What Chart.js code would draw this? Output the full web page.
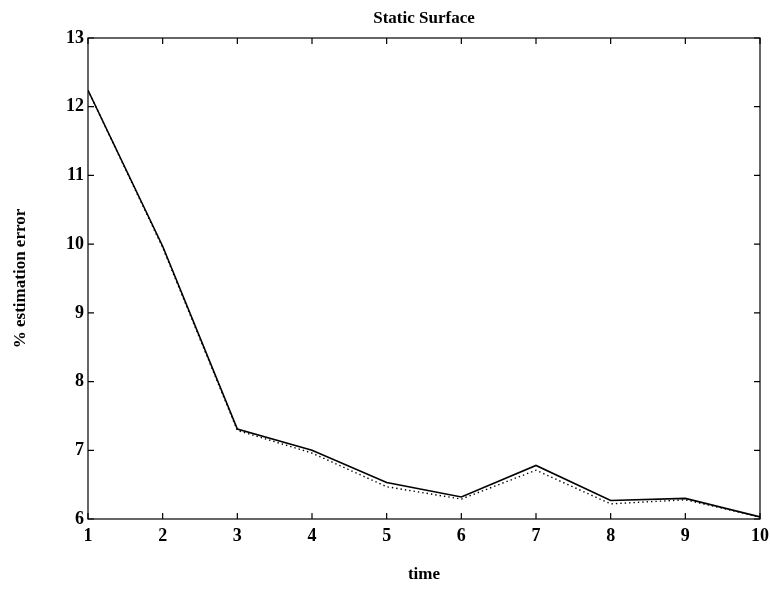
<!DOCTYPE html>
<html>
<head>
<meta charset="utf-8">
<script src="https://cdn.jsdelivr.net/npm/chart.js@4"></script>
<style>
  html, body { margin: 0; padding: 0; background: #fff; }
  #wrap { width: 770px; height: 589px; }
</style>
</head>
<body>
<div id="wrap"><canvas id="c" width="770" height="589"></canvas></div>
<script>
const timeSteps = [1, 2, 3, 4, 5, 6, 7, 8, 9, 10];
const solidErr  = [12.24, 9.97, 7.31, 7.00, 6.53, 6.32, 6.78, 6.27, 6.30, 6.03];
const dottedErr = [12.24, 9.95, 7.29, 6.96, 6.47, 6.29, 6.71, 6.22, 6.28, 6.03];
const yTicks = [6, 7, 8, 9, 10, 11, 12, 13];
const titleText = 'Static Surface';
const xTitle = 'time';
const yTitle = '% estimation error';

const FONT = "'Liberation Serif', 'DejaVu Serif', serif";

const frame = {
  id: 'frame',
  afterDatasetsDraw(chart) {
    const {ctx, chartArea: a, scales: {x, y}} = chart;
    ctx.save();
    ctx.strokeStyle = '#000';
    ctx.lineWidth = 1.2;
    ctx.strokeRect(a.left, a.top, a.right - a.left, a.bottom - a.top);
    const L = 6;
    ctx.beginPath();
    timeSteps.forEach(v => {
      const px = x.getPixelForValue(v);
      ctx.moveTo(px, a.bottom); ctx.lineTo(px, a.bottom - L);
      ctx.moveTo(px, a.top); ctx.lineTo(px, a.top + L);
    });
    yTicks.forEach(v => {
      const py = y.getPixelForValue(v);
      ctx.moveTo(a.left, py); ctx.lineTo(a.left + L, py);
      ctx.moveTo(a.right, py); ctx.lineTo(a.right - L, py);
    });
    ctx.stroke();
    ctx.restore();
  }
};

new Chart(document.getElementById('c'), {
  type: 'line',
  data: {
    datasets: [
      {
        label: 'solid',
        data: timeSteps.map((t, i) => ({x: t, y: solidErr[i]})),
        borderColor: '#000',
        borderWidth: 1.6,
        pointRadius: 0,
        tension: 0,
        fill: false
      },
      {
        label: 'dotted',
        data: timeSteps.map((t, i) => ({x: t, y: dottedErr[i]})),
        borderColor: '#000',
        borderWidth: 1.4,
        borderDash: [1.4, 3],
        pointRadius: 0,
        tension: 0,
        fill: false
      }
    ]
  },
  options: {
    responsive: false,
    animation: false,
    devicePixelRatio: 1,
    layout: { padding: { left: 0, right: 10, top: 0, bottom: 0 } },
    plugins: {
      legend: { display: false },
      tooltip: { enabled: false },
      title: { display: false }
    },
    scales: {
      x: {
        type: 'linear',
        min: 1, max: 10,
        grid: { display: false, drawTicks: false },
        border: { display: false },
        ticks: {
          stepSize: 1,
          color: '#000',
          padding: 7,
          maxRotation: 0,
          font: { family: FONT, size: 18, weight: 'bold' }
        },
        title: {
          display: true,
          text: xTitle,
          color: '#000',
          font: { family: FONT, size: 17, weight: 'bold' },
          padding: { top: 0, bottom: 4 }
        },
        afterFit(scale) { scale.height = 70; scale.paddingRight = 0; scale.paddingLeft = 0; }
      },
      xTop: {
        type: 'linear',
        position: 'top',
        min: 1, max: 10,
        grid: { display: false, drawTicks: false },
        border: { display: false },
        ticks: { display: false },
        title: {
          display: true,
          text: titleText,
          color: '#000',
          font: { family: FONT, size: 17, weight: 'bold' },
          padding: { top: 8, bottom: 0 }
        },
        afterFit(scale) { scale.height = 38; scale.paddingRight = 0; scale.paddingLeft = 0; }
      },
      y: {
        type: 'linear',
        min: 6, max: 13,
        grid: { display: false, drawTicks: false },
        border: { display: false },
        ticks: {
          stepSize: 1,
          color: '#000',
          padding: 4,
          font: { family: FONT, size: 18, weight: 'bold' }
        },
        title: {
          display: true,
          text: yTitle,
          color: '#000',
          font: { family: FONT, size: 17, weight: 'bold' },
          padding: { top: 10, bottom: 0 }
        },
        afterFit(scale) { scale.width = 88; }
      }
    }
  },
  plugins: [frame]
});
</script>
</body>
</html>
